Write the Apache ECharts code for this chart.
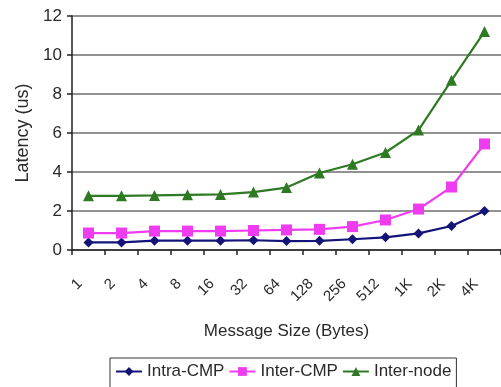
<!DOCTYPE html>
<html>
<head>
<meta charset="utf-8">
<script src="https://cdn.jsdelivr.net/npm/echarts@6/dist/echarts.min.js"></script>
<style>
  html, body { margin: 0; padding: 0; background: #fff; }
  #chart { width: 501px; height: 387px; }
</style>
</head>
<body>
<div id="chart"></div>
<script>
// Message sizes (bytes) on the category axis
const sizes = ['1', '2', '4', '8', '16', '32', '64', '128', '256', '512', '1K', '2K', '4K'];

// Latency in microseconds for each communication path
const intraCMP = [0.39, 0.39, 0.48, 0.48, 0.48, 0.50, 0.46, 0.47, 0.55, 0.65, 0.85, 1.23, 2.0];
const interCMP = [0.87, 0.87, 0.97, 0.97, 0.97, 1.00, 1.03, 1.06, 1.20, 1.54, 2.10, 3.23, 5.44];
const interNode = [2.78, 2.78, 2.80, 2.83, 2.85, 2.97, 3.20, 3.95, 4.40, 5.00, 6.15, 8.70, 11.2];

const yTicks = [0, 2, 4, 6, 8, 10, 12];

const FONT = '"Liberation Sans", Arial, sans-serif';
const TEXT = '#2a2a2a';

const chart = echarts.init(document.getElementById('chart'), null, { renderer: 'canvas' });

function lineSeries(name, data, color, symbol, size) {
  return {
    name: name,
    type: 'line',
    data: data,
    symbol: symbol,
    symbolSize: size,
    showAllSymbol: true,
    lineStyle: { color: color, width: 2.2 },
    itemStyle: { color: color },
    emphasis: { disabled: true },
    animation: false
  };
}

chart.setOption({
  animation: false,
  backgroundColor: '#fff',
  grid: { left: 72, right: -4, top: 16, bottom: 137, containLabel: false },
  xAxis: {
    type: 'category',
    data: sizes,
    boundaryGap: true,
    name: 'Message Size (Bytes)',
    nameLocation: 'middle',
    nameGap: 73,
    nameTextStyle: { fontFamily: FONT, fontSize: 17, color: TEXT },
    axisLine: { lineStyle: { color: '#222', width: 1.5 } },
    axisTick: { show: true, alignWithLabel: false, length: 5, lineStyle: { color: '#222', width: 1.5 } },
    axisLabel: {
      rotate: 45,
      margin: 23,
      padding: [0, 12, 0, 0],
      fontFamily: FONT,
      fontSize: 15,
      color: TEXT,
      interval: 0
    },
    splitLine: { show: false }
  },
  yAxis: {
    type: 'value',
    min: yTicks[0],
    max: yTicks[yTicks.length - 1],
    interval: 2,
    name: 'Latency (us)',
    nameLocation: 'middle',
    nameGap: 40,
    nameTextStyle: { fontFamily: FONT, fontSize: 18, color: TEXT },
    axisLine: { show: true, lineStyle: { color: '#222', width: 1.5 } },
    axisTick: { show: true, length: 5, lineStyle: { color: '#222', width: 1.5 } },
    axisLabel: { fontFamily: FONT, fontSize: 17, color: TEXT, margin: 10 },
    splitLine: { show: true, lineStyle: { color: '#6e6e6e', width: 1.6 } }
  },
  legend: {
    top: 358,
    left: 110,
    itemGap: 4,
    itemWidth: 26,
    itemHeight: 11,
    padding: [5, 5, 12, 5],
    borderColor: '#333',
    borderWidth: 1,
    textStyle: { fontFamily: FONT, fontSize: 17, color: TEXT },
    data: ['Intra-CMP', 'Inter-CMP', 'Inter-node']
  },
  series: [
    lineSeries('Intra-CMP', intraCMP, '#141478', 'diamond', 10),
    lineSeries('Inter-CMP', interCMP, '#f03cf0', 'rect', 11),
    lineSeries('Inter-node', interNode, '#2d7a23', 'triangle', 11)
  ]
});
</script>
</body>
</html>
